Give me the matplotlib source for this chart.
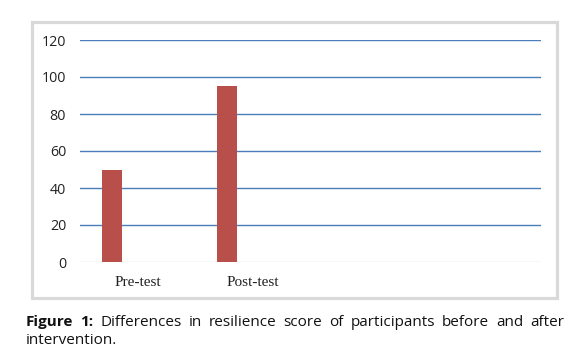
import matplotlib
matplotlib.use("Agg")
import matplotlib.pyplot as plt
from matplotlib.patches import Rectangle

categories = ["Pre-test", "Post-test", "", ""]
values = [50, 95]
yticks = [0, 20, 40, 60, 80, 100, 120]
caption_line1 = ["Differences", "in", "resilience", "score", "of", "participants", "before", "and", "after"]
caption_line2 = "intervention."

W, H = 587, 359
fig = plt.figure(figsize=(W / 100, H / 100), dpi=100)

def fx(px): return px / W
def fy(py): return 1 - py / H
fig.patches.append(Rectangle((fx(31.5), fy(297.5)), fx(557) - fx(31.5), fy(22.5) - fy(297.5),
                             transform=fig.transFigure, fill=False, edgecolor="#d9d9d9", linewidth=2.3))

ax = fig.add_axes([fx(80), fy(262), fx(541) - fx(80), fy(40) - fy(262)])
ax.set_xlim(-0.5, len(categories) - 0.5)
ax.set_ylim(0, 120)
for y in yticks[1:]:
    ax.axhline(y, color="#4a7ebb", linewidth=1.0, zorder=1)
ax.axhline(0, color="#d9d9d9", linewidth=1.0, zorder=1)

xs = [i - 0.222 for i in range(len(values))]
ax.bar(xs, values, width=0.1735, color="#b84f4b", zorder=2)

for s in ax.spines.values():
    s.set_visible(False)
ax.set_yticks(yticks)
ax.set_yticklabels([str(t) for t in yticks], fontsize=10.3, family="Open Sans", color="#222222")
ax.set_xticks(range(len(categories)))
ax.set_xticklabels(categories, fontsize=11, family="Liberation Serif", color="#222222")
ax.tick_params(axis="y", length=0, pad=10)
ax.tick_params(axis="x", length=0, pad=10)

left, right = 26, 564
y1, y2 = 322, 341
words = [("Figure", "bold"), ("1:", "bold")] + [(w, "normal") for w in caption_line1]
texts = [fig.text(0, fy(y1), w, fontsize=11, family="Open Sans", fontweight=wt, color="#111111",
                  va="center", ha="left") for w, wt in words]
fig.canvas.draw()
r = fig.canvas.get_renderer()
widths = [t.get_window_extent(r).width for t in texts]
gap = (right - left - sum(widths)) / (len(texts) - 1)
x = left
for t, w in zip(texts, widths):
    t.set_x(fx(x))
    x += w + gap
fig.text(fx(left), fy(y2), caption_line2, fontsize=11, family="Open Sans", color="#111111",
         va="center", ha="left")

fig.savefig("out.png", dpi=100)
